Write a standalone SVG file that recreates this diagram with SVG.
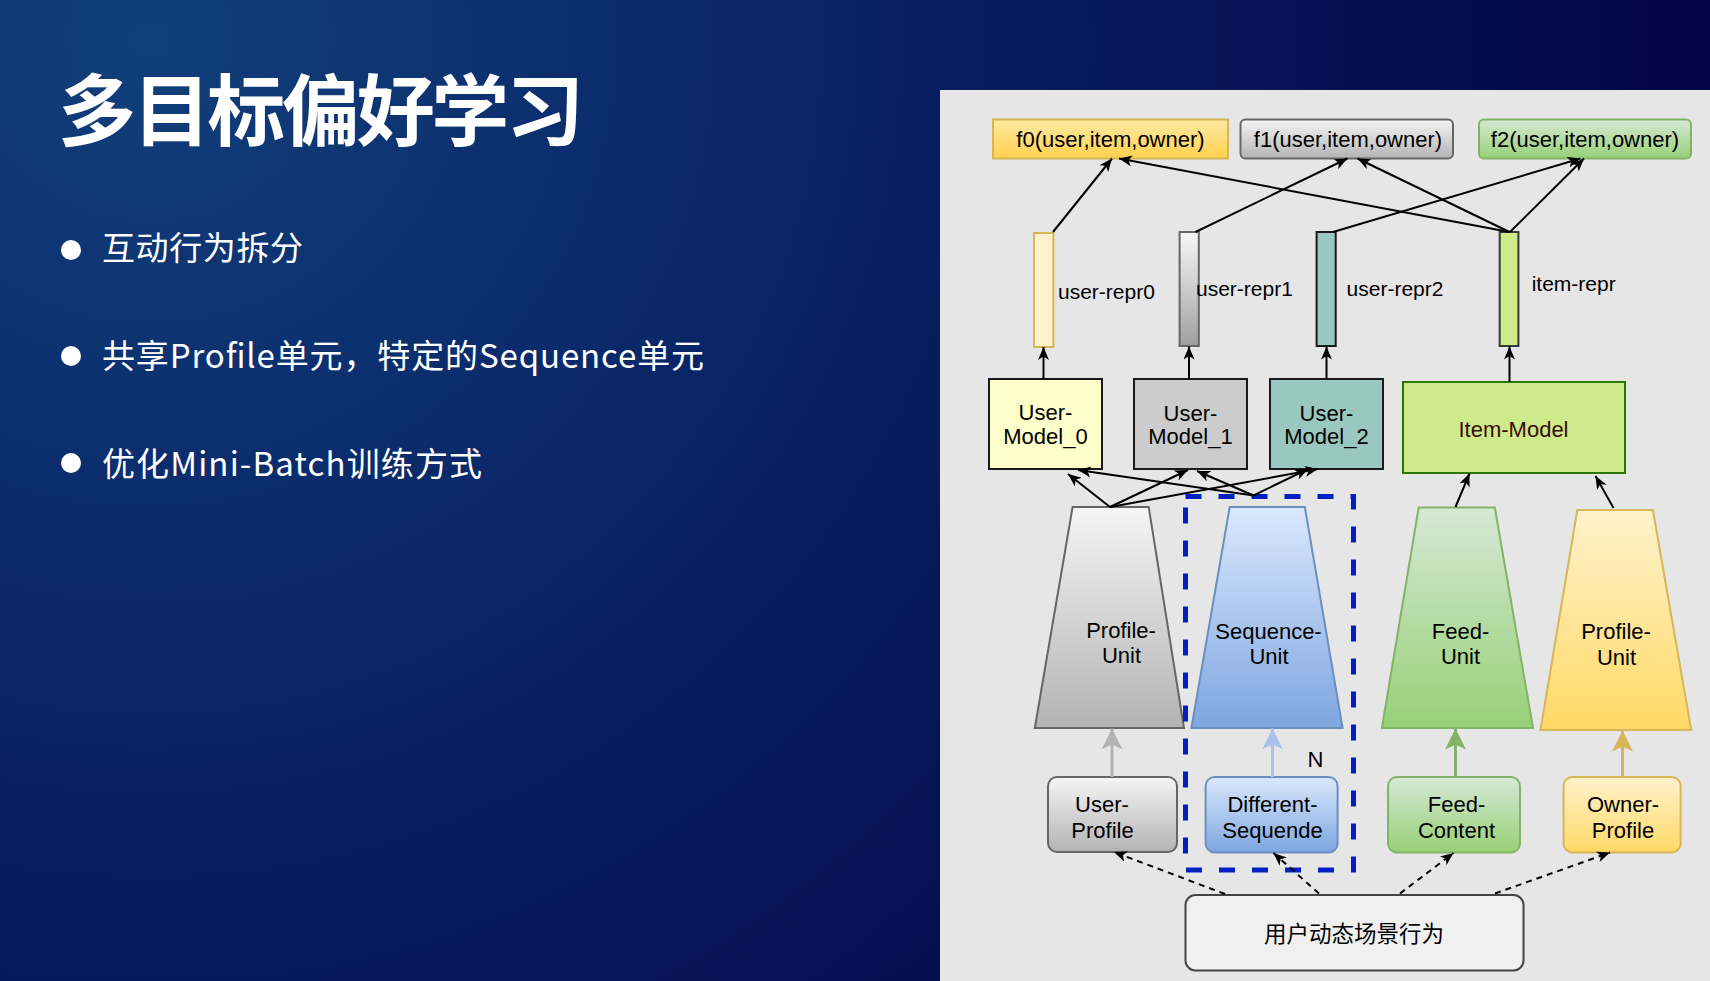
<svg xmlns="http://www.w3.org/2000/svg" width="1710" height="981" viewBox="0 0 1710 981">
<defs>
<radialGradient id="bg" gradientUnits="userSpaceOnUse" cx="150" cy="40" r="1500">
<stop offset="0" stop-color="#113f7a"/>
<stop offset="0.35" stop-color="#0b2a6b"/>
<stop offset="0.6" stop-color="#081a5a"/>
<stop offset="1" stop-color="#03074a"/>
</radialGradient>
<linearGradient id="gGray" x1="0" y1="0" x2="0" y2="1"><stop offset="0" stop-color="#f5f5f5"/><stop offset="1" stop-color="#b3b3b3"/></linearGradient>
<linearGradient id="gBlue" x1="0" y1="0" x2="0" y2="1"><stop offset="0" stop-color="#dae8fc"/><stop offset="1" stop-color="#7ea6e0"/></linearGradient>
<linearGradient id="gGreen" x1="0" y1="0" x2="0" y2="1"><stop offset="0" stop-color="#d5e8d4"/><stop offset="1" stop-color="#97d077"/></linearGradient>
<linearGradient id="gYellow" x1="0" y1="0" x2="0" y2="1"><stop offset="0" stop-color="#fff2cc"/><stop offset="1" stop-color="#ffd966"/></linearGradient>
<linearGradient id="gGold" x1="0" y1="0" x2="0" y2="1"><stop offset="0" stop-color="#ffeaa3"/><stop offset="1" stop-color="#ffd04e"/></linearGradient>
<linearGradient id="gBar" x1="0" y1="0" x2="0" y2="1"><stop offset="0" stop-color="#f7f7f7"/><stop offset="1" stop-color="#a0a0a0"/></linearGradient>
<marker id="aBlack" markerUnits="userSpaceOnUse" viewBox="0 0 13 11" refX="13" refY="5.5" markerWidth="13" markerHeight="11" orient="auto">
<path d="M13,5.5 L0,0 L3.5,5.5 L0,11 Z" fill="#000"/>
</marker>
<marker id="aGray" markerUnits="userSpaceOnUse" viewBox="0 0 21 21" refX="21" refY="10.5" markerWidth="21" markerHeight="21" orient="auto">
<path d="M21,10.5 L0,0 L5,10.5 L0,21 Z" fill="#b3b3b3"/>
</marker>
<marker id="aBlue" markerUnits="userSpaceOnUse" viewBox="0 0 21 21" refX="21" refY="10.5" markerWidth="21" markerHeight="21" orient="auto">
<path d="M21,10.5 L0,0 L5,10.5 L0,21 Z" fill="#a9c4eb"/>
</marker>
<marker id="aGreen" markerUnits="userSpaceOnUse" viewBox="0 0 21 21" refX="21" refY="10.5" markerWidth="21" markerHeight="21" orient="auto">
<path d="M21,10.5 L0,0 L5,10.5 L0,21 Z" fill="#82b366"/>
</marker>
<marker id="aYellow" markerUnits="userSpaceOnUse" viewBox="0 0 21 21" refX="21" refY="10.5" markerWidth="21" markerHeight="21" orient="auto">
<path d="M21,10.5 L0,0 L5,10.5 L0,21 Z" fill="#d6b656"/>
</marker>
<style>
.t{font-family:"Liberation Sans",Arial,sans-serif;font-size:22px;fill:#000;text-anchor:middle}
.ts{font-family:"Liberation Sans",Arial,sans-serif;font-size:21px;fill:#000}
.cn{font-family:"Liberation Sans","Noto Sans CJK SC",sans-serif;font-size:22.5px;fill:#000;text-anchor:middle}
.bul{font-family:"Noto Sans CJK SC",sans-serif;font-size:33px;fill:#ffffff}
.c{fill:none;stroke:#000;stroke-width:2;marker-end:url(#aBlack)}
.d{fill:none;stroke:#000;stroke-width:2;stroke-dasharray:6 5;marker-end:url(#aBlack)}
.th{fill:none;stroke-width:3}
.mb{stroke:#1a1a1a;stroke-width:2}
</style>
</defs>

<rect x="0" y="0" width="1710" height="981" fill="url(#bg)"/>

<g id="title">
<text x="58" y="140" font-family="'Noto Sans CJK SC',sans-serif" font-weight="bold" font-size="78" fill="#ffffff" textLength="526">多目标偏好学习</text>
</g>
<g id="bullets">
<circle cx="71" cy="250" r="10" fill="#ffffff"/>
<text class="bul" x="102" y="260" textLength="201">互动行为拆分</text>
<circle cx="71" cy="356" r="10" fill="#ffffff"/>
<text class="bul" x="102" y="368" textLength="602">共享Profile单元，特定的Sequence单元</text>
<circle cx="71" cy="463" r="10" fill="#ffffff"/>
<text class="bul" x="102" y="476" textLength="380">优化Mini-Batch训练方式</text>
</g>

<rect id="panel" x="940" y="90" width="770" height="891" fill="#e6e6e6"/>

<g id="f0"><rect x="993" y="119.5" width="235" height="39" fill="url(#gGold)" stroke="#d6b656" stroke-width="2"/><text class="t" x="1110.5" y="147">f0(user,item,owner)</text></g>
<g id="f1"><rect x="1240.5" y="119.5" width="212.5" height="39" rx="5" fill="url(#gGray)" stroke="#666666" stroke-width="2"/><text class="t" x="1348" y="147">f1(user,item,owner)</text></g>
<g id="f2"><rect x="1479" y="119.5" width="212" height="39" rx="5" fill="url(#gGreen)" stroke="#82b366" stroke-width="2"/><text class="t" x="1585" y="147">f2(user,item,owner)</text></g>

<g id="user-repr0"><rect x="1034" y="233" width="19.4" height="114" fill="#fff2cc" stroke="#d6b656" stroke-width="2"/><text class="ts" x="1058" y="299">user-repr0</text></g>
<g id="user-repr1"><rect x="1179.6" y="232" width="19.2" height="114" fill="url(#gBar)" stroke="#666666" stroke-width="2"/><text class="ts" x="1196" y="295.5">user-repr1</text></g>
<g id="user-repr2"><rect x="1316.6" y="232" width="19.1" height="114" fill="#9ac7bf" class="mb"/><text class="ts" x="1346.6" y="295.5">user-repr2</text></g>
<g id="item-repr"><rect x="1499.7" y="232" width="18.7" height="114" fill="#cdeb8b" stroke="#36393d" stroke-width="2"/><text class="ts" x="1531.7" y="291">item-repr</text></g>

<g id="user-model-0"><rect x="989" y="379" width="113" height="90" fill="#ffffcc" class="mb"/><text class="t" x="1045.5" y="420">User-</text><text class="t" x="1045.5" y="444">Model_0</text></g>
<g id="user-model-1"><rect x="1134" y="379" width="113" height="90" fill="#cccccc" class="mb"/><text class="t" x="1190.5" y="421">User-</text><text class="t" x="1190.5" y="444">Model_1</text></g>
<g id="user-model-2"><rect x="1270" y="379" width="113" height="90" fill="#9ac7bf" class="mb"/><text class="t" x="1326.5" y="421">User-</text><text class="t" x="1326.5" y="444">Model_2</text></g>
<g id="item-model"><rect x="1403" y="382" width="222" height="91" fill="#cdeb8b" stroke="#2d7600" stroke-width="2"/><text class="t" x="1513.5" y="436.5" style="fill:#3a0a0a">Item-Model</text></g>

<g id="profile-unit-user"><polygon points="1072.6,507 1148.7,507 1184,728 1034.8,728" fill="url(#gGray)" stroke="#666666" stroke-width="2"/><text class="t" x="1121" y="637.5">Profile-</text><text class="t" x="1121.5" y="662.5">Unit</text></g>
<g id="sequence-unit"><polygon points="1229.7,507 1304.8,507 1342.6,728 1191.4,728" fill="url(#gBlue)" stroke="#6c8ebf" stroke-width="2"/><text class="t" x="1268.5" y="638.5">Sequence-</text><text class="t" x="1269" y="663.5">Unit</text></g>
<g id="feed-unit"><polygon points="1418.7,507.5 1494.8,507.5 1533,728 1381.9,728" fill="url(#gGreen)" stroke="#82b366" stroke-width="2"/><text class="t" x="1460.5" y="638.5">Feed-</text><text class="t" x="1460.5" y="663.5">Unit</text></g>
<g id="profile-unit-owner"><polygon points="1577.3,510 1652.9,510 1691.2,730 1540.5,730" fill="url(#gYellow)" stroke="#d6b656" stroke-width="2"/><text class="t" x="1616" y="639">Profile-</text><text class="t" x="1616.5" y="664.5">Unit</text></g>

<g id="user-profile"><rect x="1048" y="777" width="129" height="75" rx="9" fill="url(#gGray)" stroke="#666666" stroke-width="2"/><text class="t" x="1102" y="811.5">User-</text><text class="t" x="1102.5" y="837.5">Profile</text></g>
<g id="different-sequende"><rect x="1205.6" y="777" width="132" height="75.5" rx="9" fill="url(#gBlue)" stroke="#6c8ebf" stroke-width="2"/><text class="t" x="1272.5" y="811.5">Different-</text><text class="t" x="1272.5" y="837.5">Sequende</text></g>
<g id="feed-content"><rect x="1388" y="777" width="132" height="75.5" rx="9" fill="url(#gGreen)" stroke="#82b366" stroke-width="2"/><text class="t" x="1456.5" y="811.5">Feed-</text><text class="t" x="1456.5" y="837.5">Content</text></g>
<g id="owner-profile"><rect x="1563.6" y="777" width="117" height="75.5" rx="9" fill="url(#gYellow)" stroke="#d6b656" stroke-width="2"/><text class="t" x="1623" y="811.5">Owner-</text><text class="t" x="1623" y="837.5">Profile</text></g>

<g id="user-behavior"><rect x="1185.5" y="895" width="338" height="75.5" rx="10" fill="#f0f0f0" stroke="#444444" stroke-width="2"/><text class="cn" x="1354" y="942">用户动态场景行为</text></g>

<g id="seq-group"><rect x="1185.5" y="496.5" width="168" height="373.5" fill="none" stroke="#0020c4" stroke-width="5" stroke-dasharray="16 17"/><text class="t" x="1315.5" y="766.5">N</text></g>

<g id="connectors">
<line class="c" x1="1053" y1="232" x2="1112" y2="158.5"/>
<line class="c" x1="1195.5" y1="232" x2="1347.5" y2="158.5"/>
<line class="c" x1="1333" y1="232" x2="1580.5" y2="158.5"/>
<line class="c" x1="1509.5" y1="232" x2="1119" y2="158.5"/>
<line class="c" x1="1509.5" y1="232" x2="1357.5" y2="158.5"/>
<line class="c" x1="1510" y1="232" x2="1584" y2="158.5"/>
<line class="c" x1="1043.5" y1="379" x2="1043.5" y2="347"/>
<line class="c" x1="1189" y1="379" x2="1189" y2="346.5"/>
<line class="c" x1="1326.5" y1="379" x2="1326.5" y2="346.5"/>
<line class="c" x1="1509.5" y1="382" x2="1509.5" y2="346.5"/>
<line class="c" x1="1110" y1="507" x2="1068" y2="474"/>
<line class="c" x1="1110" y1="507" x2="1188" y2="470"/>
<line class="c" x1="1110" y1="507" x2="1318" y2="469"/>
<line class="c" x1="1253.5" y1="495.5" x2="1078" y2="470"/>
<line class="c" x1="1253.5" y1="495.5" x2="1197" y2="471"/>
<line class="c" x1="1253.5" y1="495.5" x2="1308" y2="469"/>
<line class="c" x1="1455.5" y1="507" x2="1469.5" y2="473.5"/>
<line class="c" x1="1613.5" y1="508" x2="1595.5" y2="476"/>
<line class="th" stroke="#b3b3b3" marker-end="url(#aGray)" x1="1112" y1="777" x2="1112" y2="728.5"/>
<line class="th" stroke="#a9c4eb" marker-end="url(#aBlue)" x1="1272.5" y1="777" x2="1272.5" y2="728.5"/>
<line class="th" stroke="#82b366" marker-end="url(#aGreen)" x1="1455.5" y1="777" x2="1455.5" y2="728.5"/>
<line class="th" stroke="#d6b656" marker-end="url(#aYellow)" x1="1622.5" y1="777" x2="1622.5" y2="730.5"/>
<line class="d" x1="1225" y1="894" x2="1114" y2="852"/>
<line class="d" x1="1319" y1="893.5" x2="1273.5" y2="853"/>
<line class="d" x1="1400" y1="893.5" x2="1453.5" y2="853"/>
<line class="d" x1="1495" y1="893.5" x2="1610" y2="852.5"/>
</g>
</svg>
